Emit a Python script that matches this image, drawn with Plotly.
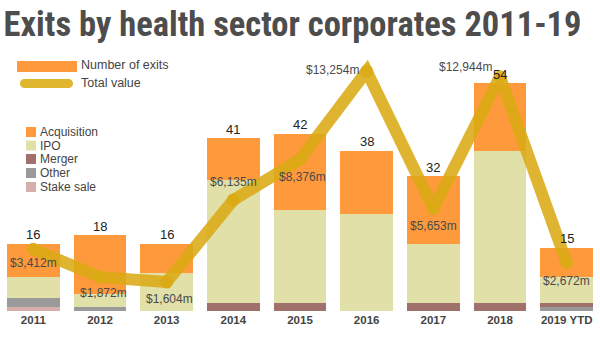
import plotly.graph_objects as go

years = ["2011", "2012", "2013", "2014", "2015", "2016", "2017", "2018", "2019 YTD"]
acquisition = [8, 14, 7, 10, 18, 15, 16, 16, 7]
ipo = [5, 3, 9, 29, 22, 23, 14, 36, 6]
merger = [0, 0, 0, 2, 2, 0, 2, 2, 1]
other = [2, 1, 0, 0, 0, 0, 0, 0, 1]
stake_sale = [1, 0, 0, 0, 0, 0, 0, 0, 0]
exits_total = [16, 18, 16, 41, 42, 38, 32, 54, 15]
total_value = [3412, 1872, 1604, 6135, 8376, 13254, 5653, 12944, 2672]
value_text = ["$3,412m", "$1,872m", "$1,604m", "$6,135m", "$8,376m",
              "$13,254m", "$5,653m", "$12,944m", "$2,672m"]

# styles
W, H = 600, 337
ML, MR, MT, MB = 0, 0, 58, 26
PH = H - MT - MB
Y1MAX = 60
Y2MAX = 13980
FONT = "Liberation Sans, Arial, sans-serif"
TXT = "#444444"
LINE_C = "rgba(219,170,20,0.88)"

series = [
    ("Stake sale", stake_sale, "#D6AFAA"),
    ("Other", other, "#9A9A9A"),
    ("Merger", merger, "#A0706A"),
    ("IPO", ipo, "#E0E0A8"),
    ("Acquisition", acquisition, "#FF9A3C"),
]

fig = go.Figure()
for name, vals, col in series:
    fig.add_trace(go.Bar(x=years, y=vals, name=name, marker=dict(color=col, line=dict(width=0)),
                         showlegend=False, hoverinfo="skip"))

fig.add_trace(go.Scatter(x=years, y=total_value, yaxis="y2", mode="lines+markers",
                         line=dict(color=LINE_C, width=12),
                         marker=dict(color=LINE_C, size=13),
                         showlegend=False, hoverinfo="skip"))


def px2x(px):
    return (px - ML) / (W - ML - MR)


def py2y(py):
    return (H - MB - py) / PH


annotations = []
shapes = []

# count labels (x given as category index)
for i, t in enumerate(exits_total):
    annotations.append(dict(x=i, y=t, xref="x", yref="y", text=str(t), showarrow=False,
                            yshift=9, font=dict(family=FONT, size=13, color="#222222")))

# value labels (offsets: xshift, yshift, xanchor)
label_pos = [(0, -14, "center"), (3, -16, "center"), (3, -17, "center"), (0, 18, "center"),
             (2, -18, "center"), (-6, 1, "right"), (0, -17, "center"), (-6, 10, "right"),
             (0, -18, "center")]
for i, (v, t, (dx, dy, xa)) in enumerate(zip(total_value, value_text, label_pos)):
    annotations.append(dict(x=i, y=v, xref="x", yref="y2", text=t, showarrow=False,
                            xshift=dx, yshift=dy, xanchor=xa,
                            font=dict(family=FONT, size=12, color="#4a4a4a")))

# top legend
shapes.append(dict(type="rect", xref="paper", yref="paper", x0=px2x(17), x1=px2x(77),
                   y0=py2y(72), y1=py2y(61), fillcolor="#FF9A3C", line=dict(width=0)))
shapes.append(dict(type="line", xref="paper", yref="paper", x0=px2x(24.5), x1=px2x(68.5),
                   y0=py2y(83.5), y1=py2y(83.5), line=dict(color="#E0B62E", width=9)))
for cx in (24.5, 68.5):
    shapes.append(dict(type="circle", xref="paper", yref="paper", xsizemode="pixel",
                       ysizemode="pixel", xanchor=px2x(cx), yanchor=py2y(83.5),
                       x0=-4.5, x1=4.5, y0=-4.5, y1=4.5, fillcolor="#E0B62E",
                       line=dict(width=0)))
for txt, cy in (("Number of exits", 65), ("Total value", 83)):
    annotations.append(dict(x=px2x(79), y=py2y(cy), xref="paper", yref="paper", text=txt,
                            showarrow=False, xanchor="left", yanchor="middle",
                            font=dict(family=FONT, size=12.5, color=TXT)))

# bottom legend
leg_rows = [("Acquisition", "#FF9A3C", 132), ("IPO", "#E0E0A8", 145.5),
            ("Merger", "#A0706A", 159), ("Other", "#9A9A9A", 173), ("Stake sale", "#D6AFAA", 187)]
for txt, col, cy in leg_rows:
    shapes.append(dict(type="rect", xref="paper", yref="paper", x0=px2x(26), x1=px2x(36),
                       y0=py2y(cy + 5), y1=py2y(cy - 5), fillcolor=col, line=dict(width=0)))
    annotations.append(dict(x=px2x(38), y=py2y(cy), xref="paper", yref="paper", text=txt,
                            showarrow=False, xanchor="left", yanchor="middle",
                            font=dict(family=FONT, size=12, color=TXT)))

fig.update_layout(
    width=W, height=H,
    margin=dict(l=ML, r=MR, t=MT, b=MB, pad=0),
    barmode="stack", bargap=0.21,
    paper_bgcolor="white", plot_bgcolor="white",
    title=dict(text="Exits by health sector corporates 2011-19", x=0.006, xanchor="left",
               y=1 - 24 / H, yanchor="middle", yref="container",
               font=dict(family="Roboto Condensed, Noto Sans Condensed, Liberation Sans Narrow, DejaVu Sans Condensed, sans-serif",
                         size=34.5, color="#4d4d4d", weight="bold")),
    xaxis=dict(type="category", range=[-0.5, len(years) - 0.5], showgrid=False,
               zeroline=False, showline=False, ticks="",
               tickfont=dict(family=FONT, size=11.5, color=TXT, weight="bold")),
    yaxis=dict(range=[0, Y1MAX], visible=False, showgrid=False),
    yaxis2=dict(range=[0, Y2MAX], overlaying="y", visible=False, showgrid=False),
    annotations=annotations,
    shapes=shapes,
    showlegend=False,
)

fig.write_html("out.html")
